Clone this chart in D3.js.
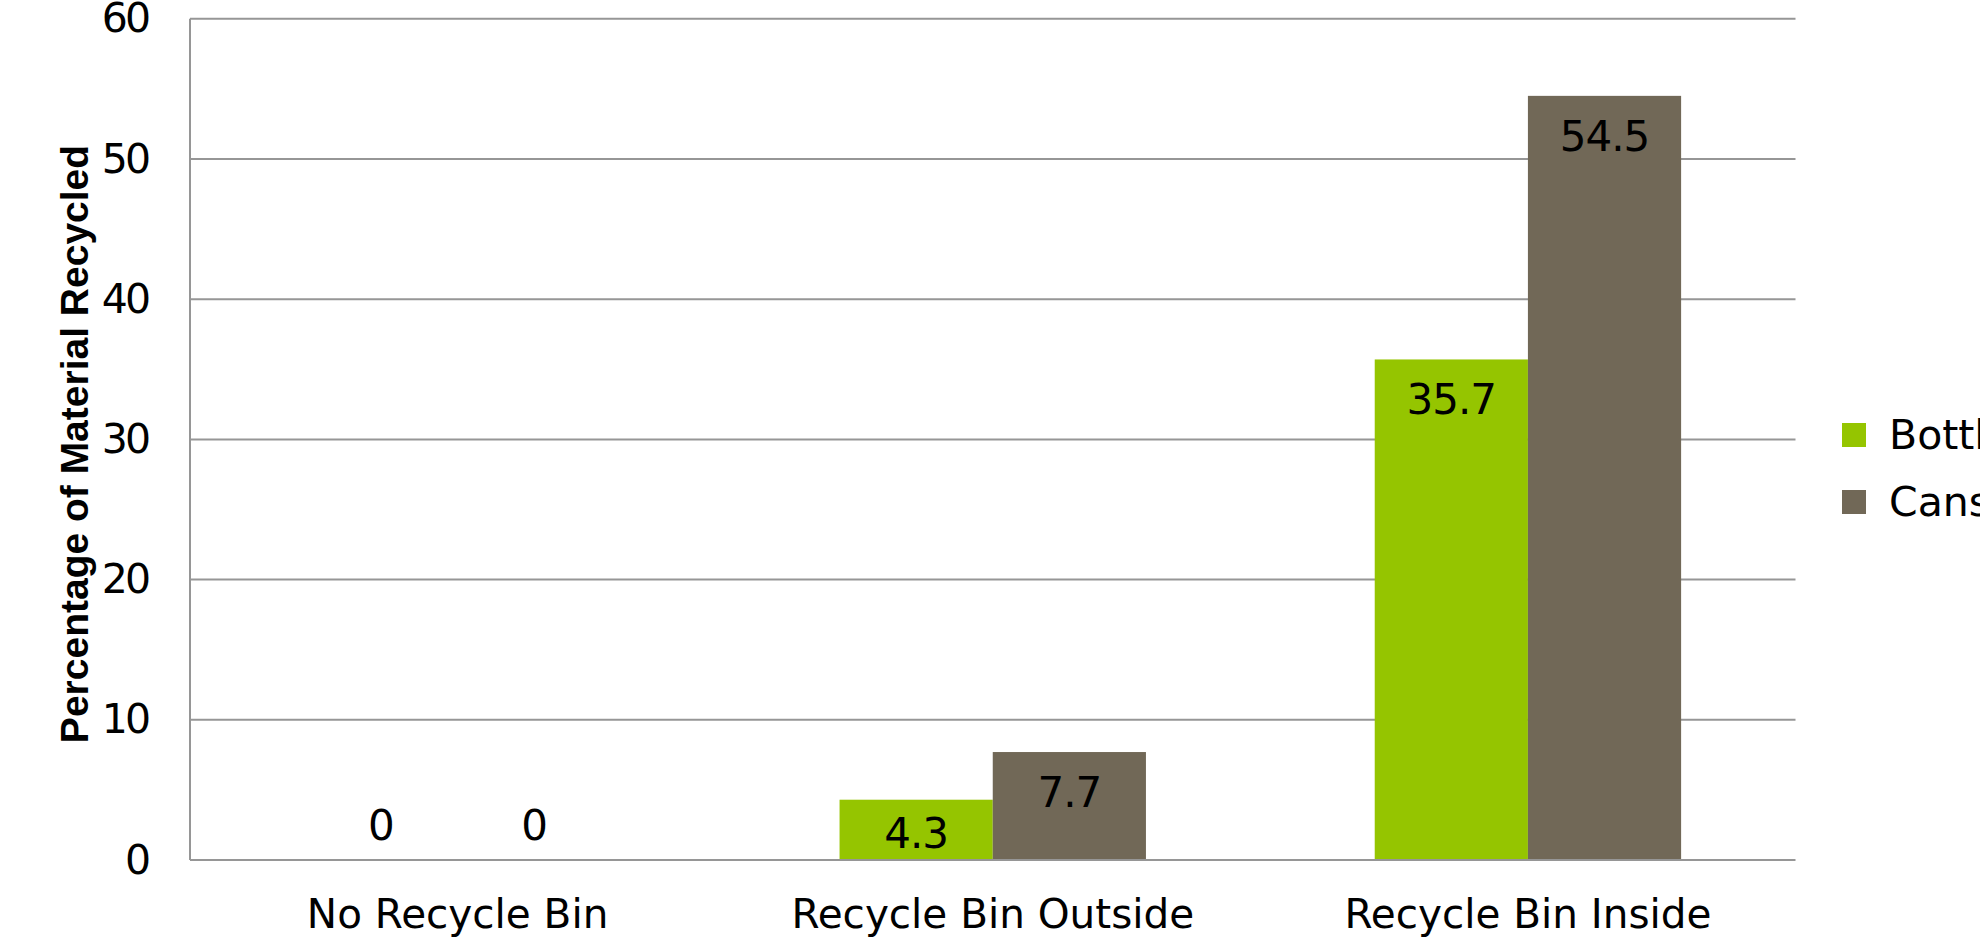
<!DOCTYPE html>
<html>
<head>
<meta charset="utf-8">
<script src="https://cdn.jsdelivr.net/npm/d3@7/dist/d3.min.js"></script>
<style>
  html, body { margin: 0; padding: 0; background: #ffffff; overflow: hidden; }
  svg { display: block; }
</style>
</head>
<body>
<svg id="chart" width="1980" height="939"></svg>
<script>
// Recycling rates by bin placement
const categories = ["No Recycle Bin", "Recycle Bin Outside", "Recycle Bin Inside"];
const seriesNames = ["Bottles", "Cans"];
const bottles = [0, 4.3, 35.7];
const cans = [0, 7.7, 54.5];
const yTicks = [0, 10, 20, 30, 40, 50, 60];
const seriesColors = ["#95c500", "#716857"];
const axisTitle = "Percentage of Material Recycled";

const svg = d3.select("#chart");
const plot = { left: 190, right: 1795.5, top: 18.75, bottom: 860 };
const labelFont = "'DejaVu Sans', sans-serif";

const rows = categories.map((c, i) => ({ category: c, values: [bottles[i], cans[i]] }));

const x0 = d3.scaleBand()
  .domain(categories)
  .range([plot.left, plot.right])
  .paddingInner(0.4275)
  .paddingOuter(0.21375);

const x1 = d3.scaleBand()
  .domain(seriesNames)
  .range([0, x0.bandwidth()])
  .padding(0);

const y = d3.scaleLinear()
  .domain([0, 60])
  .range([plot.bottom, plot.top]);

// Horizontal gridlines
svg.append("g")
  .selectAll("line")
  .data(yTicks.filter(t => t > 0))
  .join("line")
  .attr("x1", plot.left)
  .attr("x2", plot.right)
  .attr("y1", d => y(d))
  .attr("y2", d => y(d))
  .attr("stroke", "#969696")
  .attr("stroke-width", 2);

// Bars
const groups = svg.append("g")
  .selectAll("g")
  .data(rows)
  .join("g")
  .attr("transform", d => `translate(${x0(d.category)},0)`);

groups.selectAll("rect")
  .data(d => d.values.map((v, j) => ({ series: seriesNames[j], value: v, idx: j })))
  .join("rect")
  .attr("x", d => x1(d.series))
  .attr("width", x1.bandwidth())
  .attr("y", d => y(d.value))
  .attr("height", d => y(0) - y(d.value))
  .attr("fill", d => seriesColors[d.idx]);

// Value labels, placed inside the top of each bar
groups.selectAll("text")
  .data(d => d.values.map((v, j) => ({ series: seriesNames[j], value: v })))
  .join("text")
  .attr("x", d => x1(d.series) + x1.bandwidth() / 2)
  .attr("y", d => d.value === 0 ? y(0) - 20 : Math.min(y(d.value) + 55, y(0) - 12))
  .attr("text-anchor", "middle")
  .attr("font-family", labelFont)
  .attr("font-size", 42)
  .attr("letter-spacing", -1)
  .attr("fill", "#000")
  .text(d => d.value);

// Axes lines
svg.append("line")
  .attr("x1", plot.left).attr("x2", plot.left)
  .attr("y1", plot.top).attr("y2", plot.bottom)
  .attr("stroke", "#969696").attr("stroke-width", 2);

svg.append("line")
  .attr("x1", plot.left).attr("x2", plot.right)
  .attr("y1", plot.bottom).attr("y2", plot.bottom)
  .attr("stroke", "#969696").attr("stroke-width", 2);

// Y axis tick labels
const yAxis = d3.axisLeft(y).tickValues(yTicks).tickSize(0).tickPadding(42);
const yG = svg.append("g")
  .attr("transform", `translate(${plot.left},0)`)
  .call(yAxis);
yG.select(".domain").remove();
yG.selectAll("text")
  .attr("font-family", labelFont)
  .attr("font-size", 41)
  .attr("letter-spacing", -3)
  .attr("fill", "#000");

// X axis category labels
const xAxis = d3.axisBottom(x0).tickSize(0).tickPadding(0);
const xG = svg.append("g")
  .attr("transform", `translate(0,${plot.bottom})`)
  .call(xAxis);
xG.select(".domain").remove();
xG.selectAll("text")
  .attr("font-family", labelFont)
  .attr("font-size", 40.5)
  .attr("fill", "#000")
  .attr("dy", null)
  .attr("y", 68);

// Y axis title
svg.append("text")
  .attr("transform", "translate(88,444) rotate(-90)")
  .attr("text-anchor", "middle")
  .attr("font-family", "'Liberation Sans', Arial, sans-serif")
  .attr("font-weight", "bold")
  .attr("font-size", 39)
  .attr("fill", "#000")
  .text(axisTitle);

// Legend
const legend = svg.append("g")
  .selectAll("g")
  .data(seriesNames)
  .join("g")
  .attr("transform", (d, i) => `translate(1842,${423 + i * 67})`);

legend.append("rect")
  .attr("width", 24)
  .attr("height", 24)
  .attr("fill", (d, i) => seriesColors[i]);

legend.append("text")
  .attr("x", 47)
  .attr("y", 26)
  .attr("font-family", labelFont)
  .attr("font-size", 41)
  .attr("fill", "#000")
  .text(d => d);
</script>
</body>
</html>
